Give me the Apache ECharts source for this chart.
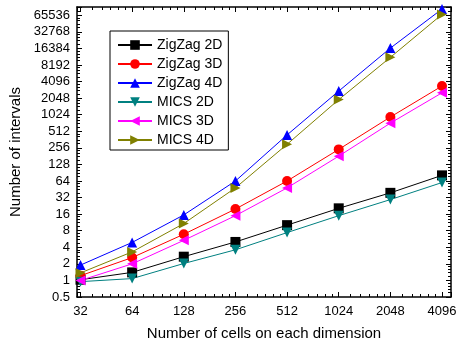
<!DOCTYPE html>
<html>
<head>
<meta charset="utf-8">
<script src="https://cdn.jsdelivr.net/npm/echarts@6/dist/echarts.min.js"></script>
<style>
  html, body { margin: 0; padding: 0; background: #fff; }
  #chart { width: 459px; height: 341px; }
</style>
</head>
<body>
<div id="chart"></div>
<script>
const cells = [32, 64, 128, 256, 512, 1024, 2048, 4096]

const zigzag2d = [1.03, 1.4, 2.7, 5.0, 10.1, 20.4, 39, 81]
const zigzag3d = [1.22, 2.6, 6.9, 19.8, 64, 240, 930, 3400]
const zigzag4d = [1.9, 4.9, 15.5, 64, 440, 2750, 16600, 85000]
const mics2d = [0.95, 1.08, 2.03, 3.6, 7.4, 15, 29.4, 60]
const mics3d = [1.0, 2.0, 5.35, 15, 48, 181, 720, 2560]
const mics4d = [1.37, 3.3, 10.8, 48, 297, 1925, 11270, 68000]

const xMin = 30.53
const xMax = 4621
const yMin = 0.5
const yMax = 92682

const chart = echarts.init(document.getElementById('chart'))

const pow2Label = (v) => {
  const e = Math.log2(v)
  return Math.abs(e - Math.round(e)) < 1e-6 ? String(Math.round(v * 10) / 10) : ''
}

const font = 'Liberation Sans, Arial, sans-serif'

const xAxisBase = {
  type: 'log',
  logBase: 2,
  min: xMin,
  max: xMax,
  axisLine: { lineStyle: { color: '#000', width: 1.5 } },
  axisTick: { inside: true, length: 5, lineStyle: { color: '#000' } },
  minorTick: { show: true, splitNumber: 6, length: 3, lineStyle: { color: '#000' } },
  splitLine: { show: false }
}

const yAxisBase = {
  type: 'log',
  logBase: 2,
  min: yMin,
  max: yMax,
  interval: 1,
  axisLine: { lineStyle: { color: '#000', width: 1.5 } },
  axisTick: { inside: true, length: 5, lineStyle: { color: '#000' } },
  minorTick: { show: true, splitNumber: 5, length: 3, lineStyle: { color: '#000' } },
  splitLine: { show: false }
}

const makeSeries = (name, data, color, symbol, rotate) => ({
  name,
  type: 'line',
  data: data.map((v, i) => [cells[i], v]),
  symbol,
  symbolSize: 10,
  symbolRotate: rotate,
  lineStyle: { color, width: 1 },
  itemStyle: { color },
  clip: false,
  animation: false
})

const option = {
  backgroundColor: '#fff',
  textStyle: { fontFamily: font },
  grid: { left: 77, right: 8, top: 7, bottom: 44, outerBoundsMode: 'none' },
  legend: {
    orient: 'vertical',
    left: 110,
    top: 31,
    padding: [7, 6, 3, 7],
    itemWidth: 34,
    itemHeight: 12,
    itemGap: 5,
    borderColor: '#000',
    borderWidth: 1,
    backgroundColor: '#fff',
    textStyle: { fontSize: 14, color: '#000', fontFamily: font },
    data: ['ZigZag 2D', 'ZigZag 3D', 'ZigZag 4D', 'MICS 2D', 'MICS 3D', 'MICS 4D']
  },
  xAxis: [
    Object.assign({}, xAxisBase, {
      position: 'bottom',
      name: 'Number of cells on each dimension',
      nameLocation: 'middle',
      nameGap: 29,
      nameTextStyle: { fontSize: 15, color: '#000', fontFamily: font },
      axisLabel: { color: '#000', fontSize: 13, margin: 8, formatter: pow2Label }
    }),
    Object.assign({}, xAxisBase, {
      position: 'top',
      axisLabel: { show: false }
    })
  ],
  yAxis: [
    Object.assign({}, yAxisBase, {
      position: 'left',
      name: 'Number of intervals',
      nameLocation: 'middle',
      nameGap: 54,
      nameTextStyle: { fontSize: 15, color: '#000', fontFamily: font },
      axisLabel: { color: '#000', fontSize: 13, margin: 7, formatter: pow2Label }
    }),
    Object.assign({}, yAxisBase, {
      position: 'right',
      axisLabel: { show: false }
    })
  ],
  series: [
    makeSeries('ZigZag 2D', zigzag2d, '#000000', 'rect', 0),
    makeSeries('ZigZag 3D', zigzag3d, '#ff0000', 'circle', 0),
    makeSeries('ZigZag 4D', zigzag4d, '#0000ff', 'triangle', 0),
    makeSeries('MICS 2D', mics2d, '#008080', 'triangle', 180),
    makeSeries('MICS 3D', mics3d, '#ff00ff', 'triangle', 90),
    makeSeries('MICS 4D', mics4d, '#808000', 'triangle', -90)
  ]
}

chart.setOption(option)
</script>
</body>
</html>
